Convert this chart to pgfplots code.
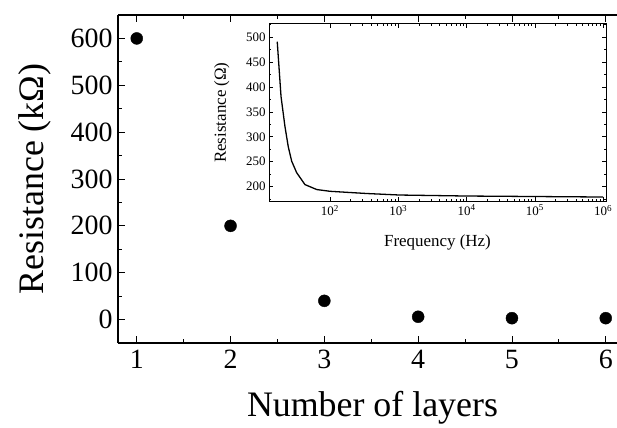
\documentclass[border=0pt]{standalone}
\usepackage{fontspec}
\setmainfont{Liberation Serif}
\usepackage{pgfplots}
\pgfplotsset{compat=1.18}

\begin{document}
\begin{tikzpicture}
% main panel: resistance versus number of layers
\begin{axis}[
  at={(0,0)}, anchor=south west,
  scale only axis, width=499bp, height=328bp,
  xmin=0.8, xmax=6.12, ymin=-50, ymax=650,
  axis x line*=box, axis y line*=left,
  xtick={1,...,6}, minor xtick={1.5,2.5,3.5,4.5,5.5},
  ytick={0,100,...,600}, minor ytick={50,150,...,550},
  tick align=inside,
  major tick length=7bp, minor tick length=4bp,
  every tick/.style={black, line width=0.9pt},
  axis line style={line width=1.1pt},
  /pgf/number format/assume math mode=true,
  tick label style={font=\fontsize{28}{28}\selectfont},
  xticklabel style={yshift=-4bp},
  yticklabel style={xshift=-2bp},
  xlabel={Number of layers}, ylabel={Resistance (kΩ)},
  label style={font=\fontsize{36}{36}\selectfont},
  xlabel style={at={(axis description cs:0.51,-0.198)}, anchor=center},
  ylabel style={at={(axis description cs:-0.166,0.5)}, anchor=center, rotate=0},
  clip=false,
]
\addplot[only marks, mark=*, mark size=6bp, black] coordinates {
  (1,600) (2,200) (3,40) (4,6) (5,3) (6,3)
};
\end{axis}

% inset: resistance versus frequency
\begin{axis}[
  at={(151bp,141.5bp)}, anchor=south west,
  scale only axis, width=337bp, height=177.7bp,
  xmode=log, xmin=12.8, xmax=1.1e6, ymin=170, ymax=527,
  xtick={1e2,1e3,1e4,1e5,1e6},
  xticklabels={10\textsuperscript{2},10\textsuperscript{3},10\textsuperscript{4},10\textsuperscript{5},10\textsuperscript{6}},
  ytick={200,250,...,500}, minor ytick={175,225,...,525},
  tick align=inside,
  major tick length=4bp, minor tick length=2.2bp,
  every tick/.style={black, line width=0.6pt},
  axis line style={line width=0.8pt},
  axis background/.style={fill=white},
  /pgf/number format/assume math mode=true,
  tick label style={font=\fontsize{13}{13}\selectfont},
  xlabel={Frequency (Hz)}, ylabel={Resistance (Ω)},
  label style={font=\fontsize{17}{17}\selectfont},
  xlabel style={at={(axis description cs:0.5,-0.229)}, anchor=center},
  ylabel style={at={(axis description cs:-0.140,0.5)}, anchor=center, rotate=0},
]
\addplot[black, line width=1.3pt] coordinates {
  (16.9,491) (19.2,381) (21.9,321) (24.5,280) (27.5,251) (32.5,228)
  (43,204) (64,194) (100,190.5) (200,188) (350,186) (1050,183)
  (1e4,181) (1e5,180) (1e6,179)
};
\end{axis}

\pgfresetboundingbox
\path (-118bp,-85bp) rectangle (499bp,343bp);
\end{tikzpicture}
\end{document}
